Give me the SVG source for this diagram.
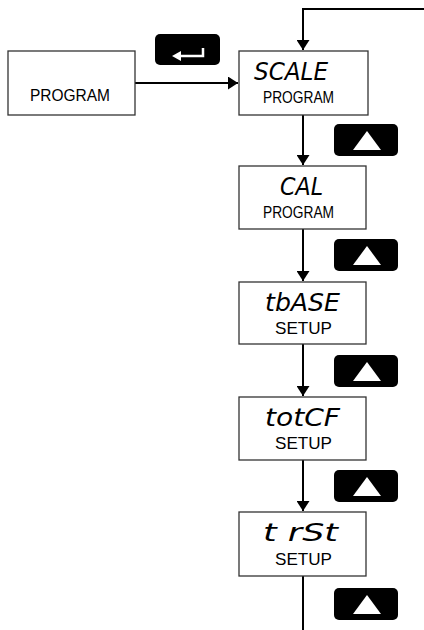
<svg xmlns="http://www.w3.org/2000/svg" width="424" height="630" viewBox="0 0 424 630">
<defs>
<style>
.box{fill:#fff;stroke:#333;stroke-width:1.3}
.btn{fill:#000}
.conn{fill:none;stroke:#000;stroke-width:2}
.top{font-family:"DejaVu Sans","Liberation Sans",sans-serif;font-style:italic;font-size:24px;fill:#000;text-anchor:start}
.sub{font-family:"Liberation Sans","DejaVu Sans",sans-serif;font-size:17px;fill:#000;text-anchor:start}
</style>
<marker id="ah" markerWidth="10" markerHeight="13" refX="10" refY="6.5" orient="auto" markerUnits="userSpaceOnUse">
<path d="M0,0 L10,6.5 L0,13 Z" fill="#000"/>
</marker>
<symbol id="up" viewBox="0 0 64 32">
<rect x="0" y="0" width="64" height="32" rx="5" fill="#000"/>
<path d="M33,7 L47,26 L19,26 Z" fill="#fff"/>
</symbol>
</defs>

<g id="connectors">
<path class="conn" d="M424,9 H303 V50" marker-end="url(#ah)"/>
<path class="conn" d="M135,83 H238" marker-end="url(#ah)"/>
<path class="conn" d="M303,115 V165" marker-end="url(#ah)"/>
<path class="conn" d="M303,229 V281" marker-end="url(#ah)"/>
<path class="conn" d="M303,344 V396" marker-end="url(#ah)"/>
<path class="conn" d="M303,460 V511" marker-end="url(#ah)"/>
<path class="conn" d="M303,576 V630"/>
</g>

<g id="node-program">
<rect class="box" x="8" y="51" width="127" height="64"/>
<text class="sub" x="30" y="101" textLength="80" lengthAdjust="spacingAndGlyphs" font-size="18">PROGRAM</text>
</g>

<g id="btn-enter">
<rect class="btn" x="155" y="34" width="65" height="31" rx="5"/>
<path d="M203,48 V56 H180" fill="none" stroke="#fff" stroke-width="2.5"/>
<path d="M172,56 L181,51 L181,61 Z" fill="#fff"/>
</g>

<g id="node-scale">
<rect class="box" x="239" y="51" width="129" height="64"/>
<text class="top" x="254" y="80" textLength="74" lengthAdjust="spacingAndGlyphs">SCALE</text>
<text class="sub" x="263" y="103" textLength="71" lengthAdjust="spacingAndGlyphs">PROGRAM</text>
</g>

<g id="btn-up-1"><use href="#up" x="334" y="124" width="64" height="32"/></g>

<g id="node-cal">
<rect class="box" x="239" y="166" width="127" height="63"/>
<text class="top" x="280" y="195" textLength="43" lengthAdjust="spacingAndGlyphs">CAL</text>
<text class="sub" x="263" y="218" textLength="71" lengthAdjust="spacingAndGlyphs">PROGRAM</text>
</g>

<g id="btn-up-2"><use href="#up" x="334" y="239" width="64" height="32"/></g>

<g id="node-tbase">
<rect class="box" x="239" y="282" width="127" height="62"/>
<text class="top" x="265" y="311" textLength="75" lengthAdjust="spacingAndGlyphs">tbASE</text>
<text class="sub" x="275" y="334" textLength="57" lengthAdjust="spacingAndGlyphs">SETUP</text>
</g>

<g id="btn-up-3"><use href="#up" x="334" y="355" width="64" height="32"/></g>

<g id="node-totcf">
<rect class="box" x="239" y="397" width="127" height="63"/>
<text class="top" x="265" y="426" textLength="75" lengthAdjust="spacingAndGlyphs">totCF</text>
<text class="sub" x="275" y="449" textLength="57" lengthAdjust="spacingAndGlyphs">SETUP</text>
</g>

<g id="btn-up-4"><use href="#up" x="334" y="470" width="64" height="32"/></g>

<g id="node-trst">
<rect class="box" x="239" y="512" width="127" height="64"/>
<text class="top" x="263" y="541" textLength="75" lengthAdjust="spacingAndGlyphs" xml:space="preserve">t rSt</text>
<text class="sub" x="275" y="565" textLength="57" lengthAdjust="spacingAndGlyphs">SETUP</text>
</g>

<g id="btn-up-5"><use href="#up" x="334" y="588" width="64" height="32"/></g>
</svg>
